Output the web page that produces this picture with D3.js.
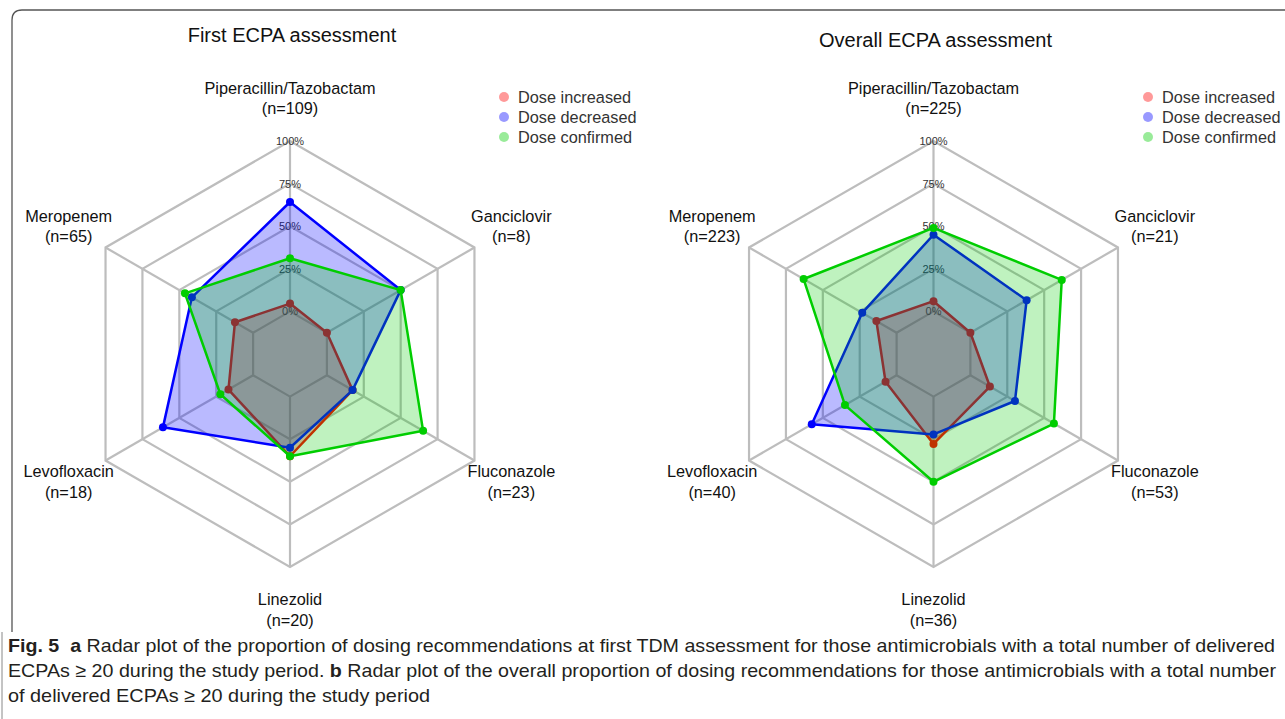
<!DOCTYPE html>
<html>
<head>
<meta charset="utf-8">
<script src="https://cdn.jsdelivr.net/npm/d3@7"></script>
<style>
  html, body { margin: 0; padding: 0; background: #ffffff; }
  svg { display: block; }
</style>
</head>
<body>
<svg id="chart" width="1285" height="719"></svg>
<script>
// ---------------- DATA ----------------
const categories = ["Piperacillin/Tazobactam", "Ganciclovir", "Fluconazole", "Linezolid", "Levofloxacin", "Meropenem"];
const firstN   = [109, 8, 23, 20, 18, 65];
const overallN = [225, 21, 53, 36, 40, 223];

const seriesNames = ["Dose increased", "Dose decreased", "Dose confirmed"];

const firstIncreased = [0.046, 0.0, 0.174, 0.35, 0.167, 0.123];
const firstDecreased = [0.642, 0.5, 0.174, 0.30, 0.611, 0.415];
const firstConfirmed = [0.312, 0.5, 0.652, 0.35, 0.222, 0.462];

const overallIncreased = [0.06, 0.0, 0.132, 0.278, 0.075, 0.137];
const overallDecreased = [0.45, 0.381, 0.302, 0.222, 0.575, 0.233];
const overallConfirmed = [0.49, 0.619, 0.566, 0.50, 0.35, 0.63];

const tickValues = [0, 0.25, 0.5, 0.75, 1];
const tickLabels = ["0%", "25%", "50%", "75%", "100%"];

const panelTitles = ["First ECPA assessment", "Overall ECPA assessment"];

// ---------------- STYLE ----------------
const lineColors = ["#ff0000", "#0000ff", "#00cd00"];
const fillColors = ["rgba(255,0,0,0.27)", "rgba(0,0,255,0.27)", "rgba(0,205,0,0.25)"];
const legendColors = ["rgba(255,0,0,0.4)", "rgba(0,0,255,0.4)", "rgba(0,205,0,0.4)"];
const FONT = "'Liberation Sans', Arial, sans-serif";

const svg = d3.select("#chart");

// frame
svg.append("path")
  .attr("d", "M12,632 L12,20 Q12,10 22,10 L1290,10")
  .attr("fill", "none").attr("stroke", "#555").attr("stroke-width", 1.3);
svg.append("line")
  .attr("x1", 2).attr("x2", 2).attr("y1", 632).attr("y2", 719)
  .attr("stroke", "#888").attr("stroke-width", 1);

const R = 213;
const rScale = d3.scaleLinear().domain([-0.25, 1]).range([0, R]);
const angle = i => i * 2 * Math.PI / categories.length;

const panels = [
  { cx: 290,   cy: 354, title: panelTitles[0], titleY: 42, n: firstN,
    series: [firstIncreased, firstDecreased, firstConfirmed], legendX: 504 },
  { cx: 933.5, cy: 354, title: panelTitles[1], titleY: 47, n: overallN,
    series: [overallIncreased, overallDecreased, overallConfirmed], legendX: 1148 }
];

panels.forEach(p => {
  const g = svg.append("g").attr("transform", `translate(${p.cx},${p.cy})`);

  // title
  svg.append("text")
    .attr("x", p.cx + 2).attr("y", p.titleY)
    .attr("text-anchor", "middle")
    .attr("font-family", FONT).attr("font-size", 20).attr("fill", "#111")
    .text(p.title);

  // rings
  const ringLine = d3.lineRadial()
    .angle((d, i) => angle(i))
    .radius(d => d)
    .curve(d3.curveLinearClosed);
  tickValues.forEach(t => {
    g.append("path")
      .attr("d", ringLine(categories.map(() => rScale(t))))
      .attr("fill", "none").attr("stroke", "#bdbdbd").attr("stroke-width", 2.2);
  });
  // spokes (from 0% ring to outer ring)
  categories.forEach((c, i) => {
    const [x1, y1] = d3.pointRadial(angle(i), rScale(0));
    const [x2, y2] = d3.pointRadial(angle(i), rScale(1));
    g.append("line")
      .attr("x1", x1).attr("y1", y1).attr("x2", x2).attr("y2", y2)
      .attr("stroke", "#bdbdbd").attr("stroke-width", 2.2);
  });

  // tick labels
  tickValues.forEach((t, k) => {
    const [x, y] = d3.pointRadial(0, rScale(t));
    g.append("text")
      .attr("x", x).attr("y", y + 4)
      .attr("text-anchor", "middle")
      .attr("font-family", FONT).attr("font-size", 11).attr("fill", "#333")
      .text(tickLabels[k]);
  });

  // category labels
  categories.forEach((c, i) => {
    const [x, y] = d3.pointRadial(angle(i), R * 1.2);
    const t = g.append("text")
      .attr("text-anchor", "middle")
      .attr("font-family", FONT).attr("font-size", 16.3).attr("fill", "#111");
    t.append("tspan").attr("x", x).attr("y", y - 10 + 5.5).text(c);
    t.append("tspan").attr("x", x).attr("y", y + 10.5 + 5.5).text(`(n=${p.n[i]})`);
  });

  // series
  const areaLine = d3.lineRadial()
    .angle((d, i) => angle(i))
    .radius(d => rScale(d))
    .curve(d3.curveLinearClosed);
  p.series.forEach((vals, s) => {
    const sg = g.append("g");
    sg.append("path")
      .attr("d", areaLine(vals))
      .attr("fill", fillColors[s])
      .attr("stroke", lineColors[s]).attr("stroke-width", 2.5)
      .attr("stroke-linejoin", "round");
    vals.forEach((v, i) => {
      const [x, y] = d3.pointRadial(angle(i), rScale(v));
      sg.append("circle").attr("cx", x).attr("cy", y).attr("r", 4)
        .attr("fill", lineColors[s]);
    });
  });

  // legend
  seriesNames.forEach((name, s) => {
    const y = 97 + s * 20;
    svg.append("circle").attr("cx", p.legendX).attr("cy", y).attr("r", 5)
      .attr("fill", legendColors[s]);
    svg.append("text").attr("x", p.legendX + 14).attr("y", y + 5.8)
      .attr("font-family", FONT).attr("font-size", 16.3).attr("fill", "#333")
      .text(name);
  });
});

// caption
const CAP = "'Liberation Sans', Arial, sans-serif";
const capLines = [
  { y: 652, len: 1267, parts: [["Fig. 5", true], ["  ", false], ["a", true], [" Radar plot of the proportion of dosing recommendations at first TDM assessment for those antimicrobials with a total number of delivered", false]] },
  { y: 677, len: 1268, parts: [["ECPAs ≥ 20 during the study period. ", false], ["b", true], [" Radar plot of the overall proportion of dosing recommendations for those antimicrobials with a total number", false]] },
  { y: 702, len: 422, parts: [["of delivered ECPAs ≥ 20 during the study period", false]] }
];
capLines.forEach(l => {
  const t = svg.append("text")
    .attr("x", 8).attr("y", l.y)
    .attr("font-family", CAP).attr("font-size", 19).attr("fill", "#231f20")
    .attr("textLength", l.len).attr("lengthAdjust", "spacingAndGlyphs")
    .attr("xml:space", "preserve").style("white-space", "pre");
  l.parts.forEach(([txt, bold]) => {
    t.append("tspan").attr("font-weight", bold ? "bold" : "normal").text(txt);
  });
});
</script>
</body>
</html>
